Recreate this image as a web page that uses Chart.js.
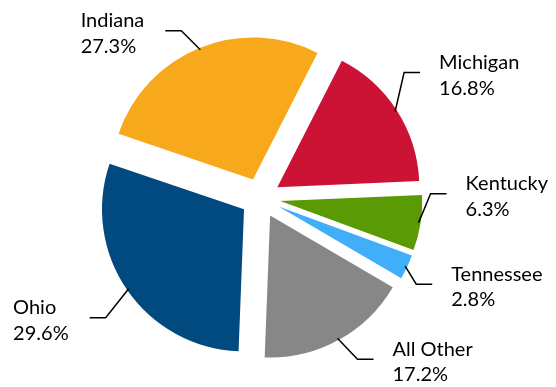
<!DOCTYPE html>
<html>
<head>
<meta charset="utf-8">
<script src="https://cdn.jsdelivr.net/npm/chart.js@4/dist/chart.umd.min.js"></script>
<style>
  html, body { margin: 0; padding: 0; background: #fff; }
  #wrap { width: 556px; height: 387px; }
</style>
</head>
<body>
<div id="wrap"><canvas id="chart"></canvas></div>
<script>
const states = ['Ohio', 'Indiana', 'Michigan', 'Kentucky', 'Tennessee', 'All Other'];
const shares = [29.6, 27.3, 16.8, 6.3, 2.8, 17.2];
const sliceColors = ['#004A80', '#F8A91B', '#CC1335', '#5A9A05', '#40AEF8', '#878787'];

// where each leader line bends, relative to the point it leaves the slice
const labelElbow = [[-23, 29], [-19, -19], [9, -39], [12, -29], [11, 18], [20, 21]];

const EXPLODE = 20;   // every slice pulled out from the centre
const RADIUS = 142;
const LABEL_FONT = "20px Lato, 'Open Sans', sans-serif";

// push each slice outward along its middle angle
const explodePlugin = {
  id: 'explode',
  beforeDatasetDraw(chart, args) {
    const ctx = chart.ctx;
    args.meta.data.forEach(arc => {
      const mid = (arc.startAngle + arc.endAngle) / 2;
      ctx.save();
      ctx.translate(Math.cos(mid) * EXPLODE, Math.sin(mid) * EXPLODE);
      arc.draw(ctx);
      ctx.restore();
    });
    return false;
  }
};

// outside labels with elbow leader lines
const labelPlugin = {
  id: 'pieLabels',
  afterDatasetsDraw(chart) {
    const ctx = chart.ctx;
    const arcs = chart.getDatasetMeta(0).data;
    ctx.save();
    ctx.font = LABEL_FONT;
    ctx.fillStyle = '#000';
    ctx.strokeStyle = '#000';
    ctx.lineWidth = 1.5;
    ctx.textBaseline = 'alphabetic';
    ctx.textAlign = 'left';
    arcs.forEach((arc, i) => {
      const mid = (arc.startAngle + arc.endAngle) / 2;
      const r = EXPLODE + arc.outerRadius - 2;
      const sx = arc.x + Math.cos(mid) * r;
      const sy = arc.y + Math.sin(mid) * r;
      const ex = sx + labelElbow[i][0];
      const ey = sy + labelElbow[i][1];
      const side = Math.cos(mid) >= 0 ? 1 : -1;
      const hx = ex + side * 16;

      ctx.beginPath();
      ctx.moveTo(sx, sy);
      ctx.lineTo(ex, ey);
      ctx.lineTo(hx, ey);
      ctx.stroke();

      const lines = [states[i], shares[i].toFixed(1) + '%'];
      const w = Math.max(...lines.map(t => ctx.measureText(t).width));
      const tx = side > 0 ? hx + 19 : hx - 21 - w;
      ctx.fillText(lines[0], tx, ey - 3.5);
      ctx.fillText(lines[1], tx, ey + 22);
    });
    ctx.restore();
  }
};

new Chart(document.getElementById('chart'), {
  type: 'pie',
  data: {
    labels: states,
    datasets: [{
      data: shares,
      backgroundColor: sliceColors,
      borderWidth: 0
    }]
  },
  options: {
    responsive: true,
    maintainAspectRatio: false,
    animation: false,
    rotation: 182.2,
    radius: RADIUS,
    layout: {
      padding: { left: 0, right: 35, top: 9, bottom: 0 }
    },
    plugins: {
      legend: { display: false },
      tooltip: { enabled: false }
    }
  },
  plugins: [explodePlugin, labelPlugin]
});
</script>
</body>
</html>
